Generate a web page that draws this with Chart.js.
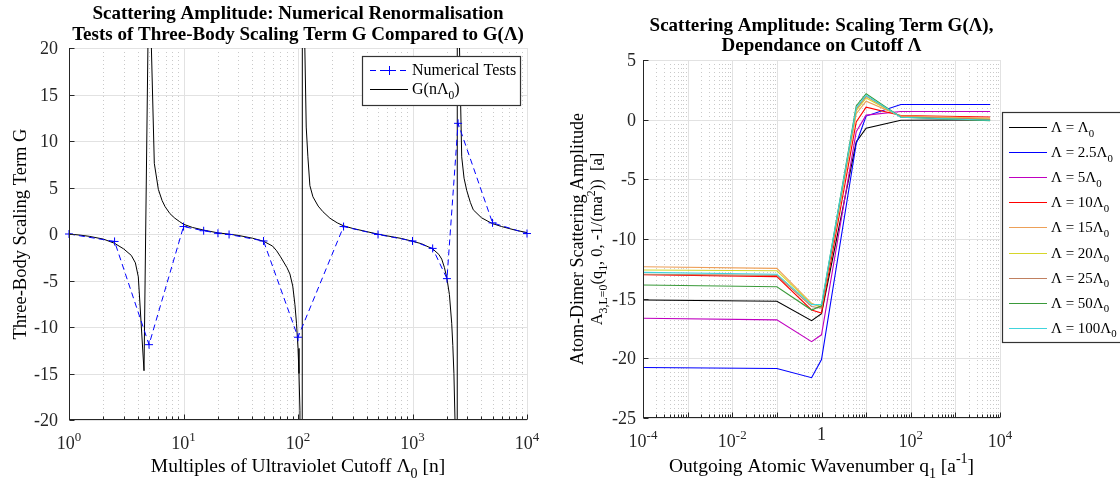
<!DOCTYPE html>
<html lang="en">
<head>
<meta charset="UTF-8">
<title>Scattering Amplitude</title>
<script src="https://cdn.jsdelivr.net/npm/chart.js"></script>
<style>
  html, body { margin: 0; padding: 0; background: #fff; }
  #wrap { position: relative; width: 1120px; height: 482px; overflow: hidden; }
  .panel { position: absolute; top: 0; width: 560px; height: 482px; }
</style>
</head>
<body>
<div id="wrap">
  <div class="panel" style="left:0"><canvas id="left" width="560" height="482"></canvas></div>
  <div class="panel" style="left:560px"><canvas id="right" width="560" height="482"></canvas></div>
</div>
<script>
// ---- left panel: numerical tests vs G(n Lambda0) ----
const testN = [1, 2.5, 5, 10, 15, 20, 25, 50, 100, 250, 500, 1000, 1500, 2000, 2500, 5000, 10000];
const testG = [0, -0.8, -11.9, 0.8, 0.35, 0.08, -0.05, -0.75, -11.1, 0.8, -0.05, -0.75, -1.55, -4.8, 11.9, 1.2, 0.05];

const curveN = [1, 1.25, 1.5, 2, 2.5, 3, 3.5, 3.8, 4.03, 4.52, 5.0, 5.56, 6.03, 6.5, 6.9, 7.6, 8.4, 9.2, 10,
  12, 15, 20, 25, 30, 40, 50, 60, 65, 70, 80, 85, 90, 94, 97, 100, 102, 104, 107,
  111, 114, 118, 122, 127, 135, 150, 165, 190, 220, 250,
  300, 400, 500, 600, 800, 1000, 1200, 1500, 1700, 1800, 1900, 2000, 2100, 2200, 2250, 2300, 2350, 2380, 2440,
  2480, 2555, 2690, 2820, 2974, 3200, 3394, 4000, 4917, 6000, 8000, 10000];
const curveG = [0, -0.12, -0.25, -0.55, -1.0, -1.6, -2.3, -3.1, -4.6, -14.7, 30, 7.6, 4.8, 3.6, 2.95, 2.2, 1.7, 1.35, 1.05,
  0.7, 0.42, 0.12, -0.02, -0.15, -0.45, -0.78, -1.3, -1.8, -2.4, -3.6, -4.3, -5.6, -7.6, -9.6, -12.3, -15, -19, -500,
  500, 22, 11.5, 8.3, 5.2, 4.0, 3.0, 2.4, 1.7, 1.2, 0.88,
  0.6, 0.25, -0.02, -0.2, -0.48, -0.78, -1.05, -1.6, -2.2, -2.7, -3.6, -4.8, -6.5, -9.6, -12, -15, -20, -25, -500,
  500, 22, 8.3, 6.0, 4.7, 3.4, 2.6, 1.75, 1.15, 0.8, 0.4, 0.15];

const leftYTicks = [-20, -15, -10, -5, 0, 5, 10, 15, 20];
const leftXExps = [0, 1, 2, 3, 4];

// ---- right panel: amplitude for several cutoffs ----
const q1 = [1e-4, 0.1, 0.6, 1, 6, 10, 60, 6000];
const ampL1   = [-15.11, -15.22, -16.84, -16.25, -1.87, -0.72, -0.05, -0.02];
const ampL2_5 = [-20.77, -20.85, -21.62, -20.1, -2.0, 0.3, 1.27, 1.27];
const ampL5   = [-16.64, -16.78, -18.6, -18.03, -1.0, 0.38, 0.69, 0.69];
const ampL10  = [-13.0, -13.15, -15.95, -16.2, -0.2, 1.05, 0.35, 0.22];
const ampL15  = [-12.32, -12.46, -15.39, -15.75, 0.5, 1.55, 0.3, 0.14];
const ampL20  = [-12.6, -12.66, -15.45, -15.65, 0.75, 1.82, 0.25, 0.05];
const ampL25  = [-12.96, -13.05, -15.65, -15.8, 0.9, 1.95, 0.25, 0.03];
const ampL50  = [-13.86, -14.0, -15.95, -15.6, 1.15, 2.17, 0.2, -0.08];
const ampL100 = [-12.8, -12.95, -15.5, -15.5, 1.0, 2.05, 0.2, -0.05];
const cutoffLabels = ['', '2.5', '5', '10', '15', '20', '25', '50', '100'];
const cutoffColors = ['#000000', '#0000ff', '#c000c0', '#ff0000', '#eda058', '#d6d62a', '#c08060', '#3a9a3a', '#40d4dc'];

const rightYTicks = [-25, -20, -15, -10, -5, 0, 5];
const rightXExps = [-4, -2, 0, 2, 4];

const FONT = '"Liberation Serif", "Times New Roman", serif';

function setFont(ctx, size, bold) {
  ctx.font = (bold ? 'bold ' : '') + size + 'px ' + FONT;
}
function richWidth(ctx, parts, size, bold) {
  let w = 0;
  for (const [t, m] of parts) { setFont(ctx, m ? size * 0.72 : size, bold); w += ctx.measureText(t).width; }
  return w;
}
function drawRich(ctx, parts, x, y, size, align, bold, color) {
  const w = richWidth(ctx, parts, size, bold);
  let cx = align === 'center' ? x - w / 2 : align === 'right' ? x - w : x;
  ctx.fillStyle = color || '#000';
  ctx.textAlign = 'left';
  for (const [t, m] of parts) {
    setFont(ctx, m ? size * 0.72 : size, bold);
    const dy = m === 'sub' ? size * 0.3 : m === 'sup' ? -size * 0.45 : 0;
    ctx.fillText(t, cx, y + dy);
    cx += ctx.measureText(t).width;
  }
}
function seg(ctx, x1, y1, x2, y2) {
  ctx.beginPath(); ctx.moveTo(x1, y1); ctx.lineTo(x2, y2); ctx.stroke();
}

function drawGrid(chart, exps) {
  const { ctx, chartArea: a, scales: { x, y } } = chart;
  const lo = exps[0], hi = exps[exps.length - 1];
  ctx.save();
  ctx.lineWidth = 1;
  ctx.strokeStyle = '#c9c9c9';
  ctx.setLineDash([1, 3]);
  for (let d = lo; d < hi; d++) {
    for (let m = 2; m < 10; m++) {
      const px = Math.round(x.getPixelForValue(m * Math.pow(10, d))) + 0.5;
      seg(ctx, px, a.top, px, a.bottom);
    }
  }
  ctx.setLineDash([]);
  ctx.strokeStyle = '#e2e2e2';
  for (let d = lo; d <= hi; d++) {
    const px = Math.round(x.getPixelForValue(Math.pow(10, d))) + 0.5;
    seg(ctx, px, a.top, px, a.bottom);
  }
  for (const v of y.ticks.map(t => t.value)) {
    const py = Math.round(y.getPixelForValue(v)) + 0.5;
    seg(ctx, a.left, py, a.right, py);
  }
  ctx.restore();
}

function drawAxes(chart, exps, yTicks, yLabelGap) {
  const { ctx, chartArea: a, scales: { x, y } } = chart;
  const lo = exps[0], hi = exps[exps.length - 1];
  ctx.save();
  ctx.strokeStyle = '#262626';
  ctx.lineWidth = 1;
  const ax = Math.round(a.left) + 0.5, ay = Math.round(a.bottom) - 0.5;
  seg(ctx, ax, a.top, ax, ay + 0.5);
  seg(ctx, ax - 0.5, ay, a.right, ay);
  for (const v of yTicks) {
    const py = Math.round(y.getPixelForValue(v)) + 0.5;
    seg(ctx, ax, py, ax + 5, py);
  }
  for (let d = lo; d <= hi; d++) {
    const px = Math.round(x.getPixelForValue(Math.pow(10, d))) + 0.5;
    seg(ctx, px, ay, px, ay - 5);
    if (d < hi) for (let m = 2; m < 10; m++) {
      const mx = Math.round(x.getPixelForValue(m * Math.pow(10, d))) + 0.5;
      seg(ctx, mx, ay, mx, ay - 3);
    }
  }
  // tick labels
  ctx.textBaseline = 'alphabetic';
  for (const v of yTicks) {
    drawRich(ctx, [[String(v), '']], a.left - yLabelGap, y.getPixelForValue(v) + 6, 18, 'right', false, '#262626');
  }
  for (const e of exps) {
    const px = x.getPixelForValue(Math.pow(10, e));
    if (e === 0 && lo < 0) {
      drawRich(ctx, [['1', '']], px, a.bottom + 22, 18, 'center', false, '#262626');
    } else {
      drawRich(ctx, [['10', ''], [String(e), 'sup']], px, a.bottom + 29, 18, 'center', false, '#262626');
    }
  }
  ctx.restore();
}

function drawVertical(ctx, parts, x, y, size) {
  ctx.save();
  ctx.translate(x, y);
  ctx.rotate(-Math.PI / 2);
  drawRich(ctx, parts, 0, 0, size, 'center', false, '#000');
  ctx.restore();
}

function baseOptions(pad, xMin, xMax, yMin, yMax, yStep) {
  return {
    responsive: false,
    animation: false,
    events: [],
    layout: { padding: pad },
    plugins: { legend: { display: false }, tooltip: { enabled: false }, title: { display: false } },
    scales: {
      x: { type: 'logarithmic', min: xMin, max: xMax, display: false },
      y: { type: 'linear', min: yMin, max: yMax, display: false, ticks: { stepSize: yStep } }
    },
    elements: { line: { tension: 0 }, point: { radius: 0 } }
  };
}

// ---------- left chart ----------
const leftPlugin = {
  id: 'leftDecor',
  beforeDatasetsDraw(chart) { drawGrid(chart, leftXExps); },
  afterDraw(chart) {
    const { ctx, chartArea: a } = chart;
    drawAxes(chart, leftXExps, leftYTicks, 11);
    const cx = (a.left + a.right) / 2;
    ctx.save();
    drawRich(ctx, [['Scattering Amplitude: Numerical Renormalisation', '']], cx, 19, 19, 'center', true);
    drawRich(ctx, [['Tests of Three-Body Scaling Term G Compared to G(Λ)', '']], cx, 40, 19, 'center', true);
    drawRich(ctx, [['Multiples of Ultraviolet Cutoff Λ', ''], ['0', 'sub'], [' [n]', '']], cx, 472, 19.5, 'center');
    drawVertical(ctx, [['Three-Body Scaling Term G', '']], 26, (a.top + a.bottom) / 2, 18.5);
    // legend
    const bx = 362.5, by = 56.5, bw = 158, bh = 49;
    ctx.fillStyle = '#fff';
    ctx.fillRect(bx, by, bw, bh);
    ctx.strokeStyle = '#333';
    ctx.lineWidth = 1.2;
    ctx.strokeRect(bx, by, bw, bh);
    ctx.lineWidth = 1;
    ctx.strokeStyle = '#0000ff';
    ctx.setLineDash([6, 4]);
    seg(ctx, 370, 70.5, 408, 70.5);
    ctx.setLineDash([]);
    seg(ctx, 389.5, 66, 389.5, 75);
    seg(ctx, 385, 70.5, 394, 70.5);
    ctx.strokeStyle = '#000';
    seg(ctx, 370, 89.5, 408, 89.5);
    drawRich(ctx, [['Numerical Tests', '']], 412, 75, 16, 'left');
    drawRich(ctx, [['G(nΛ', ''], ['0', 'sub'], [')', '']], 412, 94, 16, 'left');
    ctx.restore();
  }
};

new Chart(document.getElementById('left'), {
  type: 'line',
  data: {
    datasets: [
      {
        data: testN.map((n, i) => ({ x: n, y: testG[i] })),
        borderColor: '#0000ff', borderWidth: 1, borderDash: [6, 4],
        pointStyle: 'cross', pointRadius: 4, pointBorderColor: '#0000ff', pointBorderWidth: 1,
        fill: false, clip: 6, order: 0
      },
      {
        data: curveN.map((n, i) => ({ x: n, y: curveG[i] })),
        borderColor: '#000000', borderWidth: 1, pointRadius: 0, fill: false, order: 1
      }
    ]
  },
  options: baseOptions({ left: 69, right: 33, top: 48, bottom: 62 }, 1, 10000, -20, 20, 5),
  plugins: [leftPlugin]
});

// ---------- right chart ----------
const ampSeries = [ampL1, ampL2_5, ampL5, ampL10, ampL15, ampL20, ampL25, ampL50, ampL100];

const rightPlugin = {
  id: 'rightDecor',
  beforeDatasetsDraw(chart) { drawGrid(chart, rightXExps); },
  afterDraw(chart) {
    const { ctx, chartArea: a } = chart;
    drawAxes(chart, rightXExps, rightYTicks, 7);
    const cx = (a.left + a.right) / 2;
    ctx.save();
    drawRich(ctx, [['Scattering Amplitude: Scaling Term G(Λ),', '']], cx, 31, 19, 'center', true);
    drawRich(ctx, [['Dependance on Cutoff Λ', '']], cx, 51, 19, 'center', true);
    drawRich(ctx, [['Outgoing Atomic Wavenumber q', ''], ['1', 'sub'], [' [a', ''], ['-1', 'sup'], [']', '']], cx, 472, 19.5, 'center');
    const my = (a.top + a.bottom) / 2;
    drawVertical(ctx, [['Atom-Dimer Scattering Amplitude', '']], 23, my, 18);
    drawVertical(ctx, [['A', ''], ['3,L=0', 'sub'], ['(q', ''], ['1', 'sub'], [', 0, -1/(ma', ''], ['2', 'sup'], ['))  [a]', '']], 42, my, 16.5);
    // legend
    const bx = 442.5, by = 112.5;
    ctx.fillStyle = '#fff';
    ctx.fillRect(bx, by, 130, 230);
    ctx.strokeStyle = '#333';
    ctx.lineWidth = 1.2;
    ctx.strokeRect(bx, by, 130, 230);
    ctx.lineWidth = 1.2;
    cutoffLabels.forEach((lab, i) => {
      const ry = 127 + i * 25.1;
      ctx.strokeStyle = cutoffColors[i];
      seg(ctx, 449, Math.round(ry) + 0.5, 487, Math.round(ry) + 0.5);
      drawRich(ctx, [['Λ = ' + lab + 'Λ', ''], ['0', 'sub']], 491, ry + 5, 15, 'left');
    });
    ctx.restore();
  }
};

new Chart(document.getElementById('right'), {
  type: 'line',
  data: {
    datasets: ampSeries.map((arr, i) => ({
      data: q1.map((q, j) => ({ x: q, y: arr[j] })),
      borderColor: cutoffColors[i], borderWidth: 1.1, pointRadius: 0, fill: false,
      order: ampSeries.length - i
    }))
  },
  options: baseOptions({ left: 83, right: 120, top: 60, bottom: 64 }, 1e-4, 1e4, -25, 5, 5),
  plugins: [rightPlugin]
});
</script>
</body>
</html>
